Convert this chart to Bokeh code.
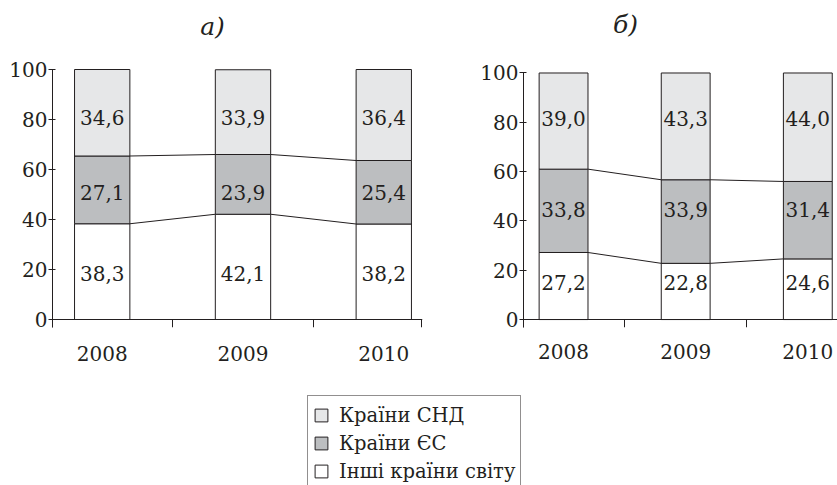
from bokeh.plotting import figure
from bokeh.models import (Range1d, FixedTicker, LinearAxis, Legend, LegendItem,
                          ColumnDataSource, Label)
from bokeh.layouts import column, row
from bokeh.embed import file_html
from bokeh.resources import INLINE
from bokeh.core.properties import value

# ---------------- data ----------------
years = ["2008", "2009", "2010"]
series_names = ["Країни СНД", "Країни ЄС", "Інші країни світу"]
panel_titles = ["а)", "б)"]

a_cis = [34.6, 33.9, 36.4]
a_eu = [27.1, 23.9, 25.4]
a_other = [38.3, 42.1, 38.2]

b_cis = [39.0, 43.3, 44.0]
b_eu = [33.8, 33.9, 31.4]
b_other = [27.2, 22.8, 24.6]

y_ticks = [0, 20, 40, 60, 80, 100]

# ---------------- style ----------------
FONT = "DejaVu Serif"
FS = "20px"
INK = "#231f20"
C_CIS = "#e6e7e8"
C_EU = "#bcbec0"
C_OTHER = "#ffffff"
AXIS_TOP = 100.2


def fmt(v):
    return f"{v:.1f}".replace(".", ",")


def stack_source(other, eu, cis):
    b1 = list(other)
    b2 = [o + e for o, e in zip(other, eu)]
    b3 = [s + c for s, c in zip(b2, cis)]
    return ColumnDataSource(dict(x=list(range(len(years))), zero=[0] * len(years),
                                 b1=b1, b2=b2, b3=b3))


def add_bars(p, src, bar_w):
    common = dict(source=src, x="x", width=bar_w, line_color=INK, line_width=1)
    r_other = p.vbar(bottom="zero", top="b1", fill_color=C_OTHER, **common)
    r_eu = p.vbar(bottom="b1", top="b2", fill_color=C_EU, **common)
    r_cis = p.vbar(bottom="b2", top="b3", fill_color=C_CIS, **common)
    return r_cis, r_eu, r_other


def make_chart(title_text, other, eu, cis, width, height, mb, x0, x1, y0, y1,
               bar_w, label_levels, title_xy, year_standoff):
    p = figure(width=width, height=height, output_backend="svg",
               toolbar_location=None, x_range=Range1d(x0, x1),
               y_range=Range1d(y0, y1), x_axis_type=None, y_axis_type=None,
               min_border_left=mb[0], min_border_right=mb[1],
               min_border_top=mb[2], min_border_bottom=mb[3],
               outline_line_color=None)

    p.add_layout(Label(x=title_xy[0], y=title_xy[1], x_units="screen",
                       y_units="screen", text=title_text, text_align="center",
                       text_baseline="middle", text_font=FONT,
                       text_font_style="italic", text_font_size="25px",
                       text_color=INK))

    src = stack_source(other, eu, cis)
    add_bars(p, src, bar_w)
    d = src.data
    idx = d["x"]

    for lev in ("b1", "b2"):
        p.segment(x0=[i + bar_w / 2 for i in idx[:-1]], y0=d[lev][:-1],
                  x1=[i + 1 - bar_w / 2 for i in idx[:-1]], y1=d[lev][1:],
                  line_color=INK, line_width=1)

    for vals, ly in zip((other, eu, cis), label_levels):
        p.text(x=idx, y=[ly] * len(idx), text=[fmt(v) for v in vals],
               text_align="center", text_baseline="middle",
               text_font=value(FONT), text_font_size=FS, text_color=INK)

    yax = LinearAxis(ticker=FixedTicker(ticks=y_ticks), bounds=(y0, AXIS_TOP))
    yax.major_label_text_font = FONT
    yax.major_label_text_font_size = FS
    yax.major_label_text_color = INK
    yax.major_tick_in = 3
    yax.major_tick_out = 4
    yax.major_label_standoff = 1
    yax.minor_tick_line_color = None
    yax.axis_line_color = INK
    yax.major_tick_line_color = INK
    p.add_layout(yax, "left")

    lax = LinearAxis(ticker=FixedTicker(ticks=idx),
                     major_label_overrides={i: y for i, y in zip(idx, years)})
    lax.major_label_text_font = FONT
    lax.major_label_text_font_size = FS
    lax.major_label_text_color = INK
    lax.major_tick_line_color = None
    lax.minor_tick_line_color = None
    lax.axis_line_color = None
    lax.major_tick_in = 0
    lax.major_tick_out = 0
    lax.major_label_standoff = year_standoff
    p.add_layout(lax, "below")

    bounds = [x0 + 0.002] + [i + 0.5 for i in idx[:-1]] + [x1 - 0.004]
    zax = LinearAxis(ticker=FixedTicker(ticks=bounds), fixed_location=0)
    zax.major_label_text_color = None
    zax.major_label_text_font_size = "1px"
    zax.minor_tick_line_color = None
    zax.major_tick_in = 0
    zax.major_tick_out = 8
    zax.axis_line_color = INK
    zax.major_tick_line_color = INK
    p.add_layout(zax, "below")
    return p, src


p1, src_a = make_chart(panel_titles[0], a_other, a_eu, a_cis, width=475, height=385,
                       mb=(52, 53, 0, 58), x0=-0.353, x1=2.275, y0=-3.2, y1=127.6,
                       bar_w=0.393, label_levels=(18.3, 51.0, 81.0),
                       title_xy=(160, 301), year_standoff=18)
p2, src_b = make_chart(panel_titles[1], b_other, b_eu, b_cis, width=362, height=385,
                       mb=(48, 0, 0, 56), x0=-0.328, x1=2.243, y0=-3.22, y1=129.4,
                       bar_w=0.40, label_levels=(15.2, 44.5, 81.4),
                       title_xy=(102, 303), year_standoff=16)

# legend panel (its renderers use chart a's data, kept outside the visible range)
p3 = figure(width=837, height=100, output_backend="svg", toolbar_location=None,
            x_axis_type=None, y_axis_type=None, x_range=Range1d(50, 51),
            y_range=Range1d(500, 501), min_border_left=307, min_border_top=10,
            min_border_right=0, min_border_bottom=0, outline_line_color=None)
renderers = add_bars(p3, src_a, 0.393)
items = [LegendItem(label=name, renderers=[r]) for name, r in zip(series_names, renderers)]
legend = Legend(items=items, location="top_left", margin=0, padding=5,
                spacing=0, glyph_width=16, glyph_height=16, label_standoff=10,
                label_height=28, label_text_font=FONT, label_text_font_size="19.5px",
                label_text_color=INK, border_line_color=INK,
                border_line_width=1, background_fill_alpha=1)
p3.add_layout(legend)

layout = column(row(p1, p2), p3)
open("out.html", "w").write(file_html(layout, INLINE))
